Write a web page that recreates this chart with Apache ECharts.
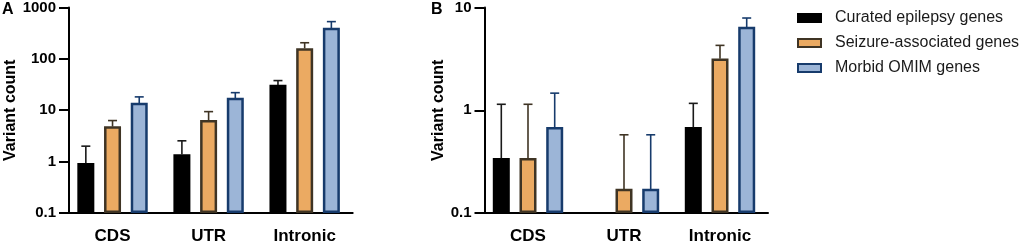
<!DOCTYPE html>
<html>
<head>
<meta charset="utf-8">
<script src="https://cdn.jsdelivr.net/npm/echarts@6/dist/echarts.min.js"></script>
<style>
  html, body { margin: 0; padding: 0; background: #fff; }
  #chart { width: 1021px; height: 245px; }
</style>
</head>
<body>
<div id="chart"></div>
<script>
  const categories = ['CDS', 'UTR', 'Intronic'];
  const seriesNames = ['Curated epilepsy genes', 'Seizure-associated genes', 'Morbid OMIM genes'];

  // panel A: mean and SD (upper error only)
  const aCurated = [0.89, 1.32, 29.5];
  const aCuratedSd = [1.11, 1.22, 8.3];
  const aSeizure = [4.6, 6.1, 153];
  const aSeizureSd = [1.7, 3.3, 53];
  const aMorbid = [13.2, 16.5, 380];
  const aMorbidSd = [5.0, 5.5, 151];

  // panel B
  const bCurated = [0.333, null, 0.667];
  const bCuratedSd = [0.81, null, 0.5];
  const bSeizure = [0.333, 0.167, 3.1];
  const bSeizureSd = [0.81, 0.41, 1.18];
  const bMorbid = [0.667, 0.167, 6.3];
  const bMorbidSd = [0.8, 0.41, 1.6];

  const aTicks = [0.1, 1, 10, 100, 1000];
  const bTicks = [0.1, 1, 10];

  const fills = ['#000000', '#EBAA62', '#9CB5D7'];
  const borders = ['#000000', '#3F3424', '#173B6C'];
  const errColors = ['#1a1a1a', '#3F3424', '#173B6C'];

  const font = 'Liberation Sans, Arial, sans-serif';
  const barWidth = 14.5;
  const pitch = 26.7;

  const chart = echarts.init(document.getElementById('chart'));

  const makeAxes = (ticks, gap) => ({
    x: {
      type: 'category',
      data: categories,
      axisLine: { lineStyle: { color: '#000', width: 2 } },
      axisTick: { alignWithLabel: true, length: 8, lineStyle: { color: '#000', width: 2 } },
      axisLabel: { color: '#000', fontWeight: 'bold', fontSize: 17, fontFamily: font, margin: 15 },
    },
    y: {
      type: 'log',
      logBase: 10,
      min: ticks[0],
      max: ticks[ticks.length - 1],
      offset: -4.5,
      name: 'Variant count',
      nameLocation: 'middle',
      nameGap: gap,
      nameTextStyle: { color: '#000', fontWeight: 'bold', fontSize: 16, fontFamily: font },
      axisLine: { show: true, lineStyle: { color: '#000', width: 2 } },
      axisTick: { show: true, length: 10, lineStyle: { color: '#000', width: 2 } },
      minorTick: { show: false },
      splitLine: { show: false },
      axisLabel: {
        color: '#000', fontWeight: 'bold', fontSize: 15, fontFamily: font, margin: 13,
        formatter: (v) => String(+v.toPrecision(3)),
      },
    },
  });

  const axA = makeAxes(aTicks, 49);
  const axB = makeAxes(bTicks, 36);

  // bars drawn from the axis minimum (log axis has no zero)
  const barSeries = (idx, data, k, base) => ({
    name: seriesNames[k],
    type: 'custom',
    xAxisIndex: idx,
    yAxisIndex: idx,
    z: 2,
    itemStyle: { color: fills[k], borderColor: borders[k], borderWidth: 2.5 },
    data: data.map((v, i) => (v == null ? null : [i, v])).filter((d) => d),
    renderItem: (params, api) => {
      const top = api.coord([api.value(0), api.value(1)]);
      const bottom = api.coord([api.value(0), base]);
      const cx = top[0] + (k - 1) * pitch;
      return {
        type: 'rect',
        shape: { x: cx - barWidth / 2, y: top[1], width: barWidth, height: bottom[1] - top[1] - 1.2 },
        style: { fill: fills[k], stroke: borders[k], lineWidth: 2.5 },
      };
    },
  });

  const errSeries = (idx, mean, sd, k) => ({
    type: 'custom',
    xAxisIndex: idx,
    yAxisIndex: idx,
    z: 3,
    silent: true,
    data: mean.map((m, i) => (m == null ? null : [i, m, m + sd[i]])).filter((d) => d),
    renderItem: (params, api) => {
      const p0 = api.coord([api.value(0), api.value(1)]);
      const p1 = api.coord([api.value(0), api.value(2)]);
      const x = p0[0] + (k - 1) * pitch;
      const style = { stroke: errColors[k], lineWidth: 1.6 };
      return {
        type: 'group',
        children: [
          { type: 'line', shape: { x1: x, y1: p0[1] - 1, x2: x, y2: p1[1] }, style },
          { type: 'line', shape: { x1: x - 4.5, y1: p1[1], x2: x + 4.5, y2: p1[1] }, style },
        ],
      };
    },
  });

  const option = {
    animation: false,
    backgroundColor: '#fff',
    grid: [
      { left: 64.5, right: 668.3, top: 6, bottom: 28 },
      { left: 480, right: 253, top: 7, bottom: 28 },
    ],
    xAxis: [Object.assign({ gridIndex: 0 }, axA.x), Object.assign({ gridIndex: 1 }, axB.x)],
    yAxis: [Object.assign({ gridIndex: 0 }, axA.y), Object.assign({ gridIndex: 1 }, axB.y)],
    legend: {
      data: seriesNames,
      orient: 'vertical',
      left: 792,
      top: 5,
      itemWidth: 23,
      itemHeight: 8,
      itemGap: 9,
      icon: 'rect',
      itemStyle: { borderWidth: 2 },
      textStyle: { color: '#1a1a1a', fontSize: 16, fontFamily: font, padding: [0, 0, 0, 9] },
    },
    graphic: [
      { type: 'text', left: 2, top: 2, style: { text: 'A', font: 'bold 16px ' + font, fill: '#000' } },
      { type: 'text', left: 431, top: 2, style: { text: 'B', font: 'bold 16px ' + font, fill: '#000' } },
    ],
    series: [
      barSeries(0, aCurated, 0, aTicks[0]),
      barSeries(0, aSeizure, 1, aTicks[0]),
      barSeries(0, aMorbid, 2, aTicks[0]),
      barSeries(1, bCurated, 0, bTicks[0]),
      barSeries(1, bSeizure, 1, bTicks[0]),
      barSeries(1, bMorbid, 2, bTicks[0]),
      errSeries(0, aCurated, aCuratedSd, 0),
      errSeries(0, aSeizure, aSeizureSd, 1),
      errSeries(0, aMorbid, aMorbidSd, 2),
      errSeries(1, bCurated, bCuratedSd, 0),
      errSeries(1, bSeizure, bSeizureSd, 1),
      errSeries(1, bMorbid, bMorbidSd, 2),
    ],
  };

  chart.setOption(option);
</script>
</body>
</html>
